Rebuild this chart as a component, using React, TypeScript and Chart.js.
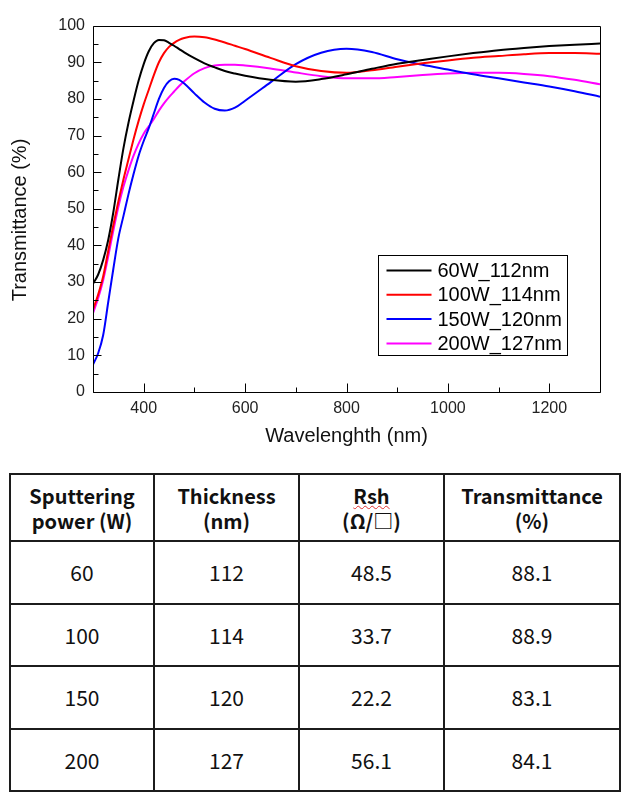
import React, { useEffect, useRef } from "react";
import { Chart, registerables } from "chart.js";

Chart.register(...registerables);

// ---------- chart data ----------
const wavelengths = [300, 310, 320, 330, 340, 350, 360, 370, 380, 390, 400, 410, 420, 430, 440, 450, 460, 470, 480, 500, 520, 540, 560, 580, 600, 650, 700, 750, 800, 850, 900, 950, 1000, 1050, 1100, 1150, 1200, 1250, 1300];

const t60W = [29.5, 32, 36, 41.5, 49, 58, 66.5, 73.5, 79.5, 85, 89.5, 93, 95.2, 96.1, 96, 95.3, 94.5, 93.6, 92.7, 91.1, 89.7, 88.6, 87.6, 86.9, 86.3, 85.2, 84.7, 85.4, 86.7, 88.2, 89.6, 90.6, 91.6, 92.5, 93.3, 93.9, 94.4, 94.8, 95.1];

const t100W = [22.5, 26.5, 31.5, 38.5, 45.5, 52, 58, 63.5, 69, 74, 78.5, 82.5, 86.5, 90, 92.5, 94.2, 95.3, 96.1, 96.6, 97, 96.8, 96.2, 95.4, 94.5, 93.6, 91.2, 88.9, 87.6, 87.1, 87.8, 88.8, 89.7, 90.5, 91.2, 91.7, 92.2, 92.5, 92.5, 92.3];

const t150W = [7.5, 10.5, 15.5, 24.5, 33.5, 42, 48, 54, 59.5, 64.5, 68.5, 72, 76, 80, 83, 84.8, 85.5, 85.2, 84.2, 81.5, 79, 77.3, 76.8, 77.6, 79.5, 84.5, 89.5, 92.6, 93.7, 92.8, 90.8, 89.3, 88, 86.7, 85.6, 84.5, 83.4, 82.1, 80.6];

const t200W = [21.5, 25.5, 30.5, 37, 44, 50.5, 56, 60.5, 64.5, 67.8, 70.5, 72.5, 74.5, 76.8, 78.8, 80.5, 82, 83.5, 84.8, 87, 88.4, 89.1, 89.3, 89.3, 89.1, 88.3, 87.2, 86.2, 85.6, 85.6, 86, 86.5, 86.9, 87.1, 87.1, 86.8, 86.2, 85.2, 84];

const seriesLabels = ["60W_112nm", "100W_114nm", "150W_120nm", "200W_127nm"];
const seriesColors = ["#000000", "#ff0000", "#0000ff", "#ff00ff"];
const seriesValues = [t60W, t100W, t150W, t200W];

const xMajorTicks = [400, 600, 800, 1000, 1200];
const xMinorTicks = [300, 500, 700, 900, 1100, 1300];
const yMajorTicks = [0, 10, 20, 30, 40, 50, 60, 70, 80, 90, 100];
const yMinorTicks = [5, 15, 25, 35, 45, 55, 65, 75, 85, 95];

const xTitle = "Wavelenghth (nm)";
const yTitle = "Transmittance (%)";

// ---------- table data ----------
const powers = ["60", "100", "150", "200"];
const thicknesses = ["112", "114", "120", "127"];
const sheetResistances = ["48.5", "33.7", "22.2", "56.1"];
const transmittances = ["88.1", "88.9", "83.1", "84.1"];

const AXIS_FONT = '"Liberation Sans", Arial, sans-serif';

const decorPlugin = {
  id: "decor",
  afterDraw(chart: any) {
    const { ctx, chartArea, scales } = chart;
    const { left, top, right, bottom } = chartArea;
    const xs = scales.x;
    const ys = scales.y;
    ctx.save();
    ctx.strokeStyle = "#000";
    ctx.lineWidth = 1;
    const L = Math.round(left) + 0.5;
    const T = Math.round(top) + 0.5;
    const R = Math.round(right) + 0.5;
    const B = Math.round(bottom) + 0.5;
    ctx.beginPath();
    ctx.rect(L, T, R - L, B - T);
    ctx.stroke();

    ctx.beginPath();
    xMajorTicks.forEach((v) => {
      const px = Math.round(xs.getPixelForValue(v)) + 0.5;
      ctx.moveTo(px, B);
      ctx.lineTo(px, B - 9);
    });
    xMinorTicks.forEach((v) => {
      const px = Math.round(xs.getPixelForValue(v)) + 0.5;
      ctx.moveTo(px, B);
      ctx.lineTo(px, B - 5);
    });
    yMajorTicks.forEach((v) => {
      const py = Math.round(ys.getPixelForValue(v)) + 0.5;
      ctx.moveTo(L, py);
      ctx.lineTo(L + 8, py);
    });
    yMinorTicks.forEach((v) => {
      const py = Math.round(ys.getPixelForValue(v)) + 0.5;
      ctx.moveTo(L, py);
      ctx.lineTo(L + 5, py);
    });
    ctx.stroke();

    // y title
    ctx.save();
    ctx.translate(12, 212);
    ctx.rotate(-Math.PI / 2);
    ctx.fillStyle = "#111";
    ctx.font = `20px ${AXIS_FONT}`;
    ctx.textAlign = "center";
    ctx.textBaseline = "middle";
    ctx.fillText(yTitle, 0, 0);
    ctx.restore();

    // legend
    const bx = Math.round(right) - 222 + 0.5;
    const by = Math.round(bottom) - 137 + 0.5;
    const bw = 189;
    const bh = 100;
    ctx.fillStyle = "#fff";
    ctx.fillRect(bx, by, bw, bh);
    ctx.strokeStyle = "#000";
    ctx.lineWidth = 1;
    ctx.strokeRect(bx, by, bw, bh);
    ctx.font = `20px ${AXIS_FONT}`;
    ctx.textAlign = "left";
    ctx.textBaseline = "middle";
    chart.data.datasets.forEach((ds: any, i: number) => {
      const cy = by + 15 + i * 24.3;
      ctx.strokeStyle = ds.borderColor;
      ctx.lineWidth = 2;
      ctx.beginPath();
      ctx.moveTo(bx + 8, cy);
      ctx.lineTo(bx + 53, cy);
      ctx.stroke();
      ctx.fillStyle = "#000";
      ctx.fillText(ds.label, bx + 59, cy + 1);
    });
    ctx.restore();
  },
};

function TransmittanceChart() {
  const ref = useRef<HTMLCanvasElement | null>(null);
  useEffect(() => {
    if (!ref.current) return;
    const chart = new Chart(ref.current, {
      type: "line",
      data: {
        datasets: seriesValues.map((vals, i) => ({
          label: seriesLabels[i],
          data: wavelengths.map((w, j) => ({ x: w, y: vals[j] })),
          borderColor: seriesColors[i],
          backgroundColor: seriesColors[i],
          borderWidth: 2,
          pointRadius: 0,
          fill: false,
          cubicInterpolationMode: "monotone" as const,
        })),
      },
      options: {
        animation: false,
        responsive: false,
        events: [],
        layout: { padding: { left: 0, right: 22, top: 10, bottom: 0 } },
        plugins: {
          legend: { display: false },
          tooltip: { enabled: false },
        },
        scales: {
          x: {
            type: "linear",
            min: 300,
            max: 1300,
            afterBuildTicks: (s: any) => {
              s.ticks = xMajorTicks.map((v) => ({ value: v }));
            },
            afterFit: (s: any) => {
              s.height = 56;
            },
            grid: { display: false, drawTicks: false },
            border: { display: false },
            ticks: {
              padding: 7,
              color: "#222",
              font: { family: AXIS_FONT, size: 16 },
              maxRotation: 0,
              autoSkip: false,
              callback: (v: any) => String(v),
            },
            title: {
              display: true,
              text: xTitle,
              color: "#111",
              font: { family: AXIS_FONT, size: 20 },
              padding: { top: 0, bottom: 0 },
            },
          },
          y: {
            type: "linear",
            min: 0,
            max: 100,
            afterBuildTicks: (s: any) => {
              s.ticks = yMajorTicks.map((v) => ({ value: v }));
            },
            afterFit: (s: any) => {
              s.width = 85;
            },
            grid: { display: false, drawTicks: false },
            border: { display: false },
            ticks: {
              padding: 8,
              color: "#222",
              font: { family: AXIS_FONT, size: 16 },
              autoSkip: false,
              callback: (v: any) => String(v),
            },
          },
        },
      },
      plugins: [decorPlugin],
    });
    return () => chart.destroy();
  }, []);
  return <canvas ref={ref} width={614} height={440} style={{ display: "block" }} />;
}

const cellBorder = "2px solid #1c1c1c";

function DataTable() {
  const th: React.CSSProperties = {
    border: cellBorder,
    fontWeight: 700,
    fontSize: 20,
    lineHeight: "25px",
    textAlign: "center",
    verticalAlign: "middle",
    padding: 0,
    color: "#111",
  };
  const td: React.CSSProperties = {
    border: cellBorder,
    fontWeight: 400,
    fontSize: 21,
    textAlign: "center",
    verticalAlign: "middle",
    padding: 0,
    color: "#111",
  };
  return (
    <table
      style={{
        borderCollapse: "collapse",
        tableLayout: "fixed",
        width: 610,
        marginLeft: 1,
        marginTop: 25,
        fontFamily: '"Noto Sans CJK KR", "Noto Sans", sans-serif',
      }}
    >
      <colgroup>
        <col style={{ width: 144 }} />
        <col style={{ width: 145 }} />
        <col style={{ width: 145 }} />
        <col style={{ width: 176 }} />
      </colgroup>
      <thead>
        <tr style={{ height: 67 }}>
          <th style={th}>
            Sputtering
            <br />
            power (W)
          </th>
          <th style={th}>
            Thickness
            <br />
            (nm)
          </th>
          <th style={th}>
            <span
              style={{
                textDecorationLine: "underline",
                textDecorationStyle: "wavy",
                textDecorationColor: "#e03030",
                textDecorationThickness: "1px",
              }}
            >
              Rsh
            </span>
            <br />
            (Ω/□)
          </th>
          <th style={th}>
            Transmittance
            <br />
            (%)
          </th>
        </tr>
      </thead>
      <tbody>
        {powers.map((p, i) => (
          <tr key={p} style={{ height: 62.5 }}>
            <td style={td}>{p}</td>
            <td style={td}>{thicknesses[i]}</td>
            <td style={td}>{sheetResistances[i]}</td>
            <td style={td}>{transmittances[i]}</td>
          </tr>
        ))}
      </tbody>
    </table>
  );
}

export default function App() {
  return (
    <div style={{ width: 614 }}>
      <TransmittanceChart />
      <DataTable />
    </div>
  );
}
